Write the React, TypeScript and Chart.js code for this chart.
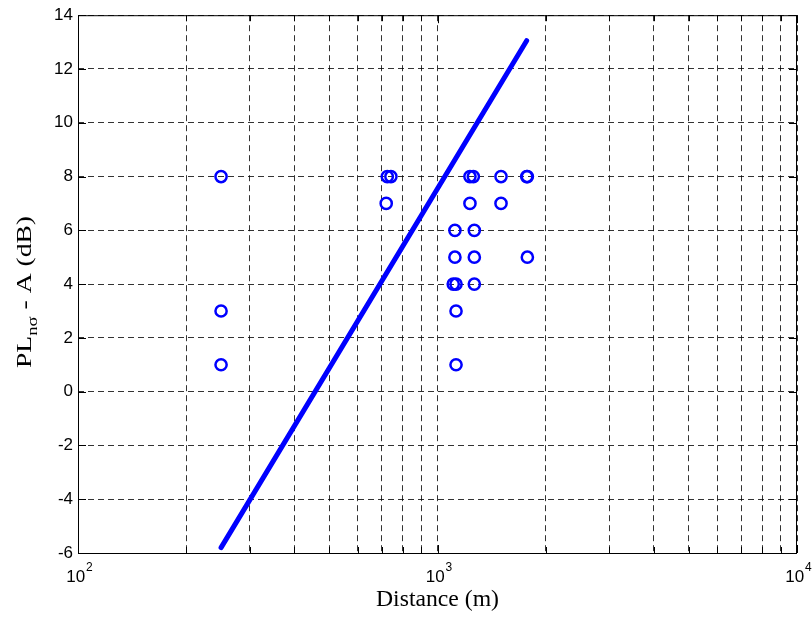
import React, { useEffect, useRef } from 'react';
import { Chart, registerables } from 'chart.js';

Chart.register(...registerables);

// Measured points (distance in m, value in dB)
const circleDistances = [
  250, 250, 250,
  720, 725, 742,
  1231, 1258, 1231,
  1118, 1266,
  1118, 1266,
  1106, 1126, 1266,
  1126, 1126,
  1502, 1502,
  1771, 1778, 1778,
];
const circleValues = [
  8, 3, 1,
  7, 8, 8,
  8, 8, 7,
  6, 6,
  5, 5,
  4, 4, 4,
  3, 1,
  8, 7,
  8, 8, 5,
];

// Fitted line end points
const fitDistances = [250, 1770];
const fitValues = [-5.8, 13.05];

const xMajorTicks = [100, 1000, 10000];
const xMajorExponents = ['2', '3', '4'];
const xMinorTicks = [200, 300, 400, 500, 600, 700, 800, 900, 2000, 3000, 4000, 5000, 6000, 7000, 8000, 9000];
const yMin = -6;
const yMax = 14;
const yStep = 2;

const xTitle = 'Distance (m)';
const yTitleMain = 'PL';
const yTitleSub = 'nσ';
const yTitleRest = ' - A (dB)';

const BLUE = '#0000ff';
const GRID = 'rgba(0,0,0,0.8)';
const SANS = '"Liberation Sans", Arial, sans-serif';
const SERIF = '"Liberation Serif", "Times New Roman", serif';

const framePlugin = {
  id: 'matlabFrame',
  afterDraw(chart: any) {
    const { ctx, chartArea: a, scales } = chart;
    const xs = scales.x;
    const ys = scales.y;
    ctx.save();
    ctx.strokeStyle = '#000';
    ctx.lineWidth = 1;
    ctx.setLineDash([]);
    // inward tick marks
    ctx.beginPath();
    const xt = [...xMajorTicks.map((v) => [v, 8]), ...xMinorTicks.map((v) => [v, 6])];
    for (const [v, len] of xt) {
      const px = Math.round(xs.getPixelForValue(v)) + 0.5;
      ctx.moveTo(px, a.bottom);
      ctx.lineTo(px, a.bottom - len);
      ctx.moveTo(px, a.top);
      ctx.lineTo(px, a.top + len);
    }
    for (let v = yMin; v <= yMax; v += yStep) {
      const py = Math.round(ys.getPixelForValue(v)) + 0.5;
      ctx.moveTo(a.left, py);
      ctx.lineTo(a.left + 8, py);
      ctx.moveTo(a.right, py);
      ctx.lineTo(a.right - 8, py);
    }
    ctx.stroke();
    // frame
    ctx.strokeRect(a.left + 0.5, a.top + 0.5, a.right - a.left - 1, a.bottom - a.top);

    // x tick labels 10^n
    ctx.fillStyle = '#000';
    ctx.textBaseline = 'alphabetic';
    ctx.textAlign = 'left';
    xMajorTicks.forEach((v, i) => {
      const px = xs.getPixelForValue(v);
      ctx.font = `17px ${SANS}`;
      const w10 = ctx.measureText('10').width;
      ctx.font = `12px ${SANS}`;
      const we = ctx.measureText(xMajorExponents[i]).width;
      const start = px - (w10 + we) / 2 + 1;
      ctx.font = `17px ${SANS}`;
      ctx.fillText('10', start, a.bottom + 29);
      ctx.font = `12px ${SANS}`;
      ctx.fillText(xMajorExponents[i], start + w10 + 1, a.bottom + 18);
    });

    // x title
    ctx.font = `23px ${SERIF}`;
    const xw = ctx.measureText(xTitle).width;
    const xTarget = 123;
    ctx.save();
    ctx.translate((a.left + a.right) / 2, 606);
    ctx.scale(xTarget / xw, 1);
    ctx.textAlign = 'center';
    ctx.fillText(xTitle, 0, 0);
    ctx.restore();

    // y title (rotated)
    ctx.save();
    ctx.font = `22px ${SERIF}`;
    const wMain = ctx.measureText(yTitleMain).width;
    const wRest = ctx.measureText(yTitleRest).width;
    ctx.font = `15px ${SERIF}`;
    const wSub = ctx.measureText(yTitleSub).width;
    const total = wMain + wSub + wRest;
    const yTarget = 152;
    const sc = yTarget / total;
    ctx.translate(31, 292);
    ctx.rotate(-Math.PI / 2);
    ctx.scale(sc, 1);
    ctx.textAlign = 'left';
    let cx = -total / 2;
    ctx.font = `22px ${SERIF}`;
    ctx.fillText(yTitleMain, cx, 0);
    cx += wMain;
    ctx.font = `15px ${SERIF}`;
    ctx.fillText(yTitleSub, cx, 6);
    cx += wSub;
    ctx.font = `22px ${SERIF}`;
    ctx.fillText(yTitleRest, cx, 0);
    ctx.restore();

    ctx.restore();
  },
};

export default function App() {
  const canvasRef = useRef<HTMLCanvasElement | null>(null);

  useEffect(() => {
    const canvas = canvasRef.current;
    if (!canvas) return;
    const scatterData = circleDistances.map((d, i) => ({ x: d, y: circleValues[i] }));
    const lineData = fitDistances.map((d, i) => ({ x: d, y: fitValues[i] }));
    const chart = new Chart(canvas, {
      type: 'scatter',
      data: {
        datasets: [
          {
            type: 'line',
            label: 'fit',
            data: lineData,
            borderColor: BLUE,
            backgroundColor: BLUE,
            borderWidth: 5,
            borderCapStyle: 'round',
            pointRadius: 0,
            fill: false,
            tension: 0,
          } as any,
          {
            type: 'scatter',
            label: 'measured',
            data: scatterData,
            pointStyle: 'circle',
            pointRadius: 5.6,
            pointBorderWidth: 2.5,
            borderColor: BLUE,
            backgroundColor: 'rgba(0,0,0,0)',
            pointBackgroundColor: 'rgba(0,0,0,0)',
            pointBorderColor: BLUE,
          } as any,
        ],
      },
      options: {
        responsive: false,
        animation: false,
        devicePixelRatio: 1,
        layout: { padding: { top: 12, right: 15, left: 0, bottom: 0 } },
        plugins: { legend: { display: false }, tooltip: { enabled: false } },
        scales: {
          x: {
            type: 'logarithmic',
            min: 100,
            max: 10000,
            afterBuildTicks: (s: any) => {
              s.ticks = [...xMajorTicks, ...xMinorTicks].sort((p, q) => p - q).map((v) => ({ value: v }));
            },
            afterFit: (s: any) => {
              s.height = 65;
            },
            ticks: { display: false },
            grid: { color: GRID, lineWidth: 1, drawTicks: false },
            border: { display: false, dash: [6, 4] },
          },
          y: {
            type: 'linear',
            min: yMin,
            max: yMax,
            afterFit: (s: any) => {
              s.width = 78;
            },
            ticks: {
              stepSize: yStep,
              color: '#000',
              padding: 5,
              font: { family: SANS, size: 17 },
            },
            grid: { color: GRID, lineWidth: 1, drawTicks: false },
            border: { display: false, dash: [6, 4] },
          },
        },
      } as any,
      plugins: [framePlugin],
    });
    return () => chart.destroy();
  }, []);

  return (
    <div style={{ position: 'absolute', left: 0, top: 0, width: 812, height: 618, background: '#fff' }}>
      <canvas ref={canvasRef} width={812} height={618} style={{ display: 'block' }} />
    </div>
  );
}
